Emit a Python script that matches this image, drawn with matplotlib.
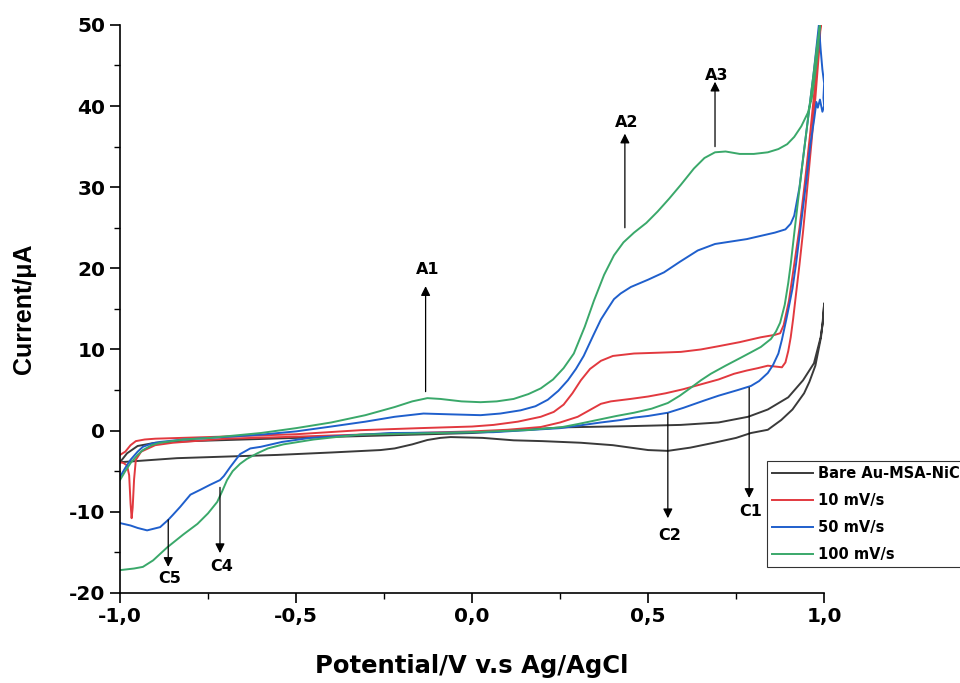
"""Cyclic voltammograms of Au-MSA-NiCl electrode at different scan rates."""
# %%
# imports
import matplotlib
matplotlib.use("Agg")
import matplotlib.pyplot as plt
from matplotlib.ticker import FuncFormatter, MultipleLocator

plt.rcParams["font.family"] = ["DejaVu Sans"]
plt.rcParams["font.weight"] = "bold"

# %%
# Data (potential in V, current in uA), each a closed CV loop
bare_v = [-1.0, -0.98, -0.95, -0.9, -0.8, -0.5, -0.25, 0.0, 0.26, 0.45, 0.593, 0.7, 0.784, 0.84,
          0.898, 0.94, 0.971, 0.99, 0.997, 1.0,
          0.995, 0.991, 0.975, 0.958, 0.943, 0.91, 0.878, 0.84, 0.792, 0.75, 0.687, 0.62, 0.556,
          0.5, 0.4, 0.309, 0.2, 0.118, 0.03, -0.061, -0.09, -0.127, -0.17, -0.22, -0.26, -0.4,
          -0.553, -0.838, -1.0]
bare_i = [-3.9, -2.8, -1.9, -1.5, -1.3, -0.9, -0.6, -0.3, 0.4, 0.55, 0.7, 1.0, 1.7, 2.6,
          4.1, 6.2, 8.3, 11.5, 13.6, 15.7,
          13.0, 11.5, 8.0, 6.0, 4.6, 2.6, 1.3, 0.1, -0.3, -0.9, -1.5, -2.1, -2.5,
          -2.4, -1.8, -1.5, -1.3, -1.2, -0.9, -0.8, -0.9, -1.16, -1.7, -2.2, -2.4, -2.7,
          -3.0, -3.4, -3.9]

red_v = [-1.0, -0.985, -0.97, -0.955, -0.93, -0.9, -0.75, -0.5, -0.317, -0.15, 0.0, 0.061, 0.13,
         0.195, 0.232, 0.26, 0.285, 0.309, 0.335, 0.366, 0.4, 0.46, 0.53, 0.593, 0.65, 0.7, 0.76,
         0.82, 0.86, 0.875, 0.885, 0.9, 0.915, 0.93, 0.945, 0.96, 0.975, 0.99,
         0.985, 0.975, 0.965, 0.95, 0.94, 0.93, 0.92, 0.912, 0.905, 0.898, 0.89, 0.88, 0.86,
         0.84, 0.812, 0.78, 0.744, 0.7, 0.65, 0.6, 0.55, 0.5, 0.45, 0.394, 0.366, 0.3, 0.25,
         0.195, 0.1, 0.0, -0.25, -0.5, -0.7, -0.85, -0.9, -0.94, -0.955, -0.96, -0.964, -0.967,
         -0.97, -0.974, -0.98, -0.99, -1.0]
red_i = [-3.0, -2.6, -1.8, -1.3, -1.1, -1.0, -0.8, -0.45, 0.05, 0.3, 0.5, 0.7, 1.1,
         1.7, 2.3, 3.2, 4.6, 6.2, 7.6, 8.6, 9.2, 9.5, 9.6, 9.7, 10.0, 10.4, 10.9,
         11.5, 11.8, 12.0, 13.0, 16.0, 20.5, 25.0, 30.5, 36.5, 43.0, 50.0,
         46.5, 41.0, 36.0, 29.0, 24.5, 20.5, 16.8, 13.8, 11.5, 9.8, 8.4, 7.8, 7.9,
         8.0, 7.7, 7.4, 7.0, 6.3, 5.7, 5.1, 4.6, 4.2, 3.9, 3.6, 3.3, 1.7, 1.0,
         0.44, 0.1, -0.1, -0.4, -0.75, -1.0, -1.5, -1.8, -2.6, -3.6, -6.0, -9.5, -10.8,
         -9.0, -5.5, -4.3, -4.0, -3.9]

blue_v = [-1.0, -0.985, -0.97, -0.95, -0.935, -0.91, -0.886, -0.82, -0.744, -0.6, -0.5, -0.4,
          -0.303, -0.22, -0.138, -0.06, 0.024, 0.08, 0.138, 0.18, 0.215, 0.245, 0.272, 0.295,
          0.317, 0.345, 0.366, 0.385, 0.403, 0.422, 0.451, 0.5, 0.545, 0.59, 0.641, 0.69, 0.735,
          0.78, 0.82, 0.86, 0.89, 0.905, 0.915, 0.93, 0.95, 0.97, 0.985,
          0.99, 0.995, 1.0, 0.998, 1.0, 0.995, 0.988, 0.982, 0.978, 0.972, 0.96, 0.95, 0.94,
          0.93, 0.92, 0.91, 0.9, 0.892, 0.88, 0.87, 0.855, 0.84, 0.815, 0.792, 0.755, 0.7,
          0.659, 0.6, 0.556, 0.5, 0.46, 0.422, 0.366, 0.3, 0.25, 0.06, -0.232, -0.35, -0.46,
          -0.54, -0.6, -0.63, -0.659, -0.687, -0.705, -0.716, -0.745, -0.772, -0.8, -0.829,
          -0.85, -0.863, -0.886, -0.923, -0.95, -0.97, -1.0]
blue_i = [-5.7, -4.6, -3.6, -2.6, -2.0, -1.6, -1.4, -1.1, -0.9, -0.5, -0.1, 0.5,
          1.1, 1.7, 2.1, 2.0, 1.9, 2.1, 2.5, 3.0, 3.8, 4.9, 6.2, 7.6,
          9.2, 11.8, 13.7, 15.0, 16.2, 16.9, 17.7, 18.6, 19.5, 20.8, 22.2, 23.0, 23.3,
          23.6, 24.0, 24.4, 24.8, 25.5, 26.5, 30.0, 37.0, 44.0, 50.0,
          47.0, 44.5, 42.8, 41.0, 40.0, 39.3, 40.8, 39.8, 40.5, 38.5, 35.0, 31.0, 27.5,
          24.0, 20.5, 17.5, 15.3, 13.6, 11.2, 9.5, 8.1, 7.1, 6.1, 5.5, 5.0, 4.3,
          3.7, 2.8, 2.2, 1.8, 1.6, 1.3, 1.0, 0.6, 0.3, -0.2, -0.3, -0.6, -0.9,
          -1.4, -2.0, -2.2, -2.9, -4.5, -5.6, -6.1, -6.7, -7.3, -7.9, -9.4,
          -10.4, -11.0, -11.9, -12.3, -12.0, -11.7, -11.4]

green_v = [-1.0, -0.985, -0.97, -0.95, -0.935, -0.91, -0.886, -0.82, -0.744, -0.6, -0.5, -0.4,
           -0.303, -0.22, -0.17, -0.127, -0.09, -0.03, 0.024, 0.07, 0.118, 0.16, 0.195, 0.23,
           0.26, 0.289, 0.32, 0.346, 0.375, 0.403, 0.43, 0.46, 0.495, 0.527, 0.56, 0.593, 0.63,
           0.66, 0.69, 0.72, 0.76, 0.8, 0.84, 0.87, 0.895, 0.915, 0.935, 0.954, 0.965, 0.972,
           0.978, 0.983, 0.988,
           0.98, 0.97, 0.96, 0.95, 0.94, 0.926, 0.915, 0.905, 0.898, 0.888, 0.875, 0.863, 0.849,
           0.82, 0.79, 0.764, 0.72, 0.678, 0.65, 0.622, 0.59, 0.556, 0.51, 0.46, 0.41, 0.366,
           0.3, 0.252, 0.158, 0.0, -0.15, -0.317, -0.366, -0.45, -0.536, -0.58, -0.61, -0.64,
           -0.659, -0.68, -0.696, -0.71, -0.724, -0.75, -0.78, -0.82, -0.866, -0.906, -0.935,
           -0.96, -1.0]
green_i = [-6.1, -5.0, -4.0, -3.0, -2.4, -1.8, -1.5, -1.1, -0.9, -0.3, 0.3, 1.0,
           1.9, 2.9, 3.6, 4.0, 3.9, 3.6, 3.5, 3.6, 3.9, 4.5, 5.2, 6.3,
           7.7, 9.5, 12.8, 16.0, 19.2, 21.6, 23.2, 24.4, 25.6, 27.0, 28.6, 30.3, 32.3,
           33.6, 34.3, 34.4, 34.1, 34.1, 34.3, 34.7, 35.3, 36.2, 37.5, 39.2, 41.0, 43.2,
           45.2, 47.3, 50.0,
           47.5, 44.0, 40.5, 37.0, 33.5, 28.4, 24.3, 20.5, 18.2, 15.5, 13.3, 12.2, 11.3,
           10.3, 9.6, 9.0, 8.0, 7.0, 6.2, 5.3, 4.3, 3.4, 2.7, 2.2, 1.8, 1.4,
           0.8, 0.4, 0.07, -0.2, -0.35, -0.5, -0.7, -1.1, -1.7, -2.2, -2.8, -3.5,
           -4.1, -5.0, -6.1, -7.5, -8.8, -10.2, -11.5, -12.8, -14.4, -16.0, -16.8,
           -17.0, -17.2]

labels = ["Bare Au-MSA-NiCl", "10 mV/s", "50 mV/s", "100 mV/s"]
colors = ["#3a3a3a", "#e2393f", "#1f5fcc", "#3aa86a"]

# peak annotations: name, arrow x, arrow tail y, arrow head y, label y
peak_names = ["A1", "A2", "A3", "C1", "C2", "C4", "C5"]
peak_x = [-0.132, 0.434, 0.69, 0.787, 0.556, -0.716, -0.863]
peak_tail = [4.8, 25.0, 35.0, 5.3, 2.1, -7.0, -11.0]
peak_head = [17.8, 36.6, 43.0, -8.3, -10.8, -15.1, -16.8]
peak_label = [19.8, 38.0, 43.8, -10.0, -12.9, -16.8, -18.2]

# %%
fig = plt.figure(figsize=(9.6, 6.83), dpi=100)
ax = fig.add_axes([0.125, 0.132, 0.7335, 0.8315])

series = [(bare_v, bare_i), (red_v, red_i), (blue_v, blue_i), (green_v, green_i)]
for (v, i), lab, col in zip(series, labels, colors):
    ax.plot(v, i, color=col, lw=1.4, label=lab, solid_joinstyle="round")

for name, x, t, h, ly in zip(peak_names, peak_x, peak_tail, peak_head, peak_label):
    ax.annotate("", xy=(x, h), xytext=(x, t),
                arrowprops=dict(arrowstyle="-|>", color="black", lw=0.9,
                                mutation_scale=14, shrinkA=0, shrinkB=0))
    ax.text(x + 0.005, ly, name, ha="center", va="center", fontsize=11.5, fontweight="bold")

ax.set_xlim(-1.0, 1.0)
ax.set_ylim(-20, 50)
ax.spines["top"].set_visible(False)
ax.spines["right"].set_visible(False)
ax.spines["left"].set_linewidth(1.2)
ax.spines["bottom"].set_linewidth(1.2)
ax.xaxis.set_major_locator(MultipleLocator(0.5))
ax.xaxis.set_minor_locator(MultipleLocator(0.25))
ax.yaxis.set_major_locator(MultipleLocator(10))
ax.yaxis.set_minor_locator(MultipleLocator(5))
ax.xaxis.set_major_formatter(FuncFormatter(lambda v, p: f"{v:.1f}".replace(".", ",")))
ax.yaxis.set_major_formatter(FuncFormatter(lambda v, p: f"{v:.0f}"))
ax.tick_params(which="major", direction="out", length=7, width=1.2, labelsize=14.5)
ax.tick_params(which="minor", direction="out", length=4, width=1.0)
for lab in ax.get_xticklabels() + ax.get_yticklabels():
    lab.set_fontweight("bold")

ax.set_xlabel("Potential/V v.s Ag/AgCl", fontsize=17.5, fontweight="bold", labelpad=20)
ax.set_ylabel("Current/μA", fontsize=18, fontweight="bold", labelpad=24,
              family=["Liberation Sans", "DejaVu Sans"])

leg = ax.legend(loc="upper left", bbox_to_anchor=(0.799, 0.325), bbox_transform=fig.transFigure,
                fontsize=10.5, frameon=True, fancybox=False, handlelength=2.8,
                borderpad=0.35, labelspacing=0.82, handletextpad=0.35, borderaxespad=0)
leg.get_frame().set_edgecolor("black")
leg.get_frame().set_linewidth(0.8)
for t in leg.get_texts():
    t.set_fontweight("bold")

fig.savefig("out.png", dpi=100)
